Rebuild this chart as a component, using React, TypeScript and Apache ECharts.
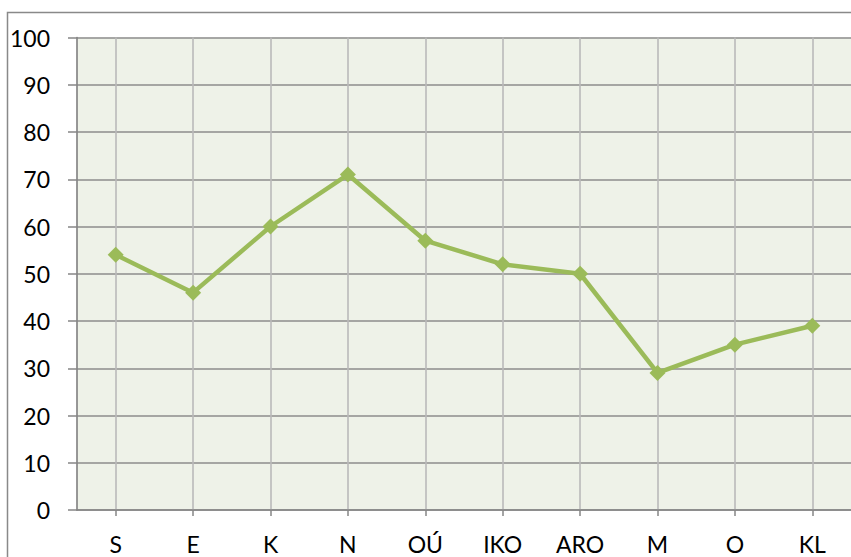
import React, { useEffect, useRef } from "react";
import * as echarts from "echarts";

const categories = ["S", "E", "K", "N", "OÚ", "IKO", "ARO", "M", "O", "KL"];
const values = [54, 46, 60, 71, 57, 52, 50, 29, 35, 39];

export default function App() {
  const ref = useRef<HTMLDivElement>(null);
  useEffect(() => {
    if (!ref.current) return;
    const chart = echarts.init(ref.current, null, { renderer: "svg" });
    chart.setOption({
      animation: false,
      backgroundColor: "#ffffff",
      graphic: [
        {
          type: "rect",
          silent: true,
          z: 100,
          shape: { x: 7.5, y: 12.5, width: 1000, height: 1000 },
          style: { fill: "none", stroke: "#898989", lineWidth: 1.5 },
        },
      ],
      grid: {
        left: 77,
        top: 37.5,
        right: 0,
        bottom: 47,
        show: true,
        backgroundColor: "#EEF2E8",
        borderWidth: 0,
      },
      xAxis: {
        type: "category",
        data: categories,
        boundaryGap: true,
        axisLine: { show: true, lineStyle: { color: "#868686", width: 1.7 } },
        axisTick: { show: true, alignWithLabel: true, length: 6, lineStyle: { color: "#868686", width: 1.5 } },
        splitLine: { show: true, alignWithLabel: true, lineStyle: { color: "#B9B9B9", width: 1.6 } },
        axisLabel: { fontSize: 23, fontFamily: "Lato", fontWeight: "normal", color: "#000", margin: 22 },
      },
      yAxis: {
        type: "value",
        min: 0,
        max: 100,
        interval: 10,
        axisLine: { show: true, lineStyle: { color: "#868686", width: 1.7 } },
        axisTick: { show: true, length: 9, lineStyle: { color: "#868686", width: 1.5 } },
        splitLine: { show: true, lineStyle: { color: "#8C8C8C", width: 1.6 } },
        axisLabel: { fontSize: 23, fontFamily: "Lato", fontWeight: "normal", color: "#000", margin: 27 },
      },
      series: [
        {
          type: "line",
          data: values,
          symbol: "diamond",
          symbolSize: 16,
          lineStyle: { color: "#9BBB59", width: 4.5 },
          itemStyle: { color: "#9BBB59" },
        },
      ],
    });
    return () => chart.dispose();
  }, []);
  return (
    <div
      ref={ref}
      style={{ position: "absolute", left: 0, top: 0, width: 851, height: 557 }}
    />
  );
}
